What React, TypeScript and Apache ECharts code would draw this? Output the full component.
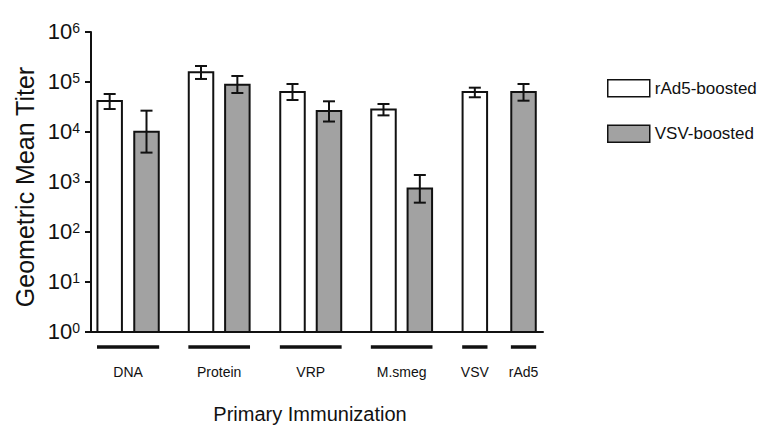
import React, { useEffect, useRef } from 'react';
import * as echarts from 'echarts';

// ---- data ----
const categories = ['DNA', 'Protein', 'VRP', 'M.smeg', 'VSV', 'rAd5'];
const seriesNames = ['rAd5-boosted', 'VSV-boosted'];
const rAd5Mean = [41700, 156000, 63100, 28300, 63100, null];
const rAd5Low = [28800, 115000, 43700, 21500, 49500, null];
const rAd5High = [57500, 209000, 91200, 36300, 77000, null];
const vsvMean = [10100, 88600, 26300, 741, null, 63100];
const vsvLow = [3870, 60300, 16200, 386, null, 42300];
const vsvHigh = [26700, 132000, 41100, 1380, null, 91200];

// ---- layout (bar slot centres along a 0..100 x axis) ----
const rAd5Slots = [4.13, 24.34, 44.58, 64.71, 84.92, null];
const vsvSlots = [12.28, 32.38, 52.65, 72.75, null, 95.69];
const BAR_W = 5.42;
const UNDERLINE_PAD = 2.8;

const FONT = "Arial, 'Liberation Sans', Helvetica, sans-serif";
const INK = '#111';
const GREY = '#a2a2a2';

function buildBarData(slots: (number | null)[], mean: (number | null)[], low: (number | null)[], high: (number | null)[]) {
  const out: number[][] = [];
  for (let i = 0; i < categories.length; i++) {
    if (slots[i] == null || mean[i] == null) continue;
    out.push([slots[i] as number, mean[i] as number, low[i] as number, high[i] as number]);
  }
  return out;
}

function barRenderer(fill: string) {
  return (params: any, api: any) => {
    const x = api.value(0);
    const v = api.value(1);
    const lo = api.value(2);
    const hi = api.value(3);
    const top = api.coord([x, v]);
    const base = api.coord([x, 1]);
    const left = api.coord([x - BAR_W / 2, v])[0];
    const right = api.coord([x + BAR_W / 2, v])[0];
    const yHi = api.coord([x, hi])[1];
    const yLo = api.coord([x, lo])[1];
    const cap = 6;
    const lineStyle = { stroke: INK, lineWidth: 2 };
    return {
      type: 'group',
      children: [
        {
          type: 'rect',
          shape: { x: left, y: top[1], width: right - left, height: base[1] - top[1] },
          style: { fill, stroke: INK, lineWidth: 2 },
        },
        { type: 'line', shape: { x1: top[0], y1: yHi, x2: top[0], y2: yLo }, style: lineStyle },
        { type: 'line', shape: { x1: top[0] - cap, y1: yHi, x2: top[0] + cap, y2: yHi }, style: lineStyle },
        { type: 'line', shape: { x1: top[0] - cap, y1: yLo, x2: top[0] + cap, y2: yLo }, style: lineStyle },
      ],
    };
  };
}

function buildGroupData() {
  const out: number[][] = [];
  for (let i = 0; i < categories.length; i++) {
    const s = [rAd5Slots[i], vsvSlots[i]].filter((v) => v != null) as number[];
    out.push([Math.min(...s) - UNDERLINE_PAD, Math.max(...s) + UNDERLINE_PAD, 1, i]);
  }
  return out;
}

export default function App() {
  const ref = useRef<HTMLDivElement>(null);
  useEffect(() => {
    if (!ref.current) return;
    const chart = echarts.init(ref.current, undefined, { renderer: 'svg' });
    const option: any = {
      animation: false,
      backgroundColor: '#ffffff',
      grid: { left: 91, right: 225, top: 32, bottom: 106, outerBoundsMode: 'none' },
      xAxis: {
        type: 'value',
        min: 0,
        max: 100,
        axisLine: { show: true, onZero: false, lineStyle: { color: INK, width: 2 } },
        axisTick: { show: false },
        axisLabel: { show: false },
        splitLine: { show: false },
      },
      yAxis: {
        type: 'log',
        logBase: 10,
        min: 1,
        max: 1000000,
        splitNumber: 6,
        axisLine: { show: true, onZero: false, lineStyle: { color: INK, width: 2 } },
        axisTick: { show: true, length: 6, lineStyle: { color: INK, width: 2 } },
        splitLine: { show: false },
        axisLabel: {
          margin: 11,
          formatter: (v: number) => `{b|10}{s|${Math.round(Math.log10(v))}}`,
          rich: {
            b: { fontSize: 22, color: INK, fontFamily: FONT, verticalAlign: 'top', lineHeight: 23 },
            s: { fontSize: 14, color: INK, fontFamily: FONT, verticalAlign: 'top', lineHeight: 15 },
          },
        },
      },
      legend: {
        orient: 'vertical',
        left: 602,
        top: 74,
        itemWidth: 42,
        itemHeight: 17,
        itemGap: 27,
        icon: 'rect',
        selectedMode: false,
        textStyle: { fontSize: 17, color: INK, fontFamily: FONT },
        data: [
          { name: seriesNames[0], itemStyle: { color: '#ffffff', borderColor: INK, borderWidth: 1.5 } },
          { name: seriesNames[1], itemStyle: { color: GREY, borderColor: INK, borderWidth: 1.5 } },
        ],
      },
      graphic: [
        {
          type: 'text',
          x: 25,
          y: 187,
          rotation: Math.PI / 2,
          style: { text: 'Geometric Mean Titer', fontSize: 25, fontFamily: FONT, fill: INK, align: 'center', verticalAlign: 'middle' },
        },
        {
          type: 'text',
          x: 310,
          y: 414,
          style: { text: 'Primary Immunization', fontSize: 20, fontFamily: FONT, fill: INK, align: 'center', verticalAlign: 'middle' },
        },
      ],
      series: [
        {
          type: 'custom',
          name: seriesNames[0],
          itemStyle: { color: '#ffffff', borderColor: INK, borderWidth: 1.5 },
          encode: { x: 0, y: 1 },
          data: buildBarData(rAd5Slots, rAd5Mean, rAd5Low, rAd5High),
          renderItem: barRenderer('#ffffff'),
          clip: false,
          silent: true,
          z: 3,
        },
        {
          type: 'custom',
          name: seriesNames[1],
          itemStyle: { color: GREY, borderColor: INK, borderWidth: 1.5 },
          encode: { x: 0, y: 1 },
          data: buildBarData(vsvSlots, vsvMean, vsvLow, vsvHigh),
          renderItem: barRenderer(GREY),
          clip: false,
          silent: true,
          z: 3,
        },
        {
          type: 'custom',
          name: 'groups',
          encode: { x: [0, 1], y: 2 },
          data: buildGroupData(),
          clip: false,
          silent: true,
          renderItem: (params: any, api: any) => {
            const p1 = api.coord([api.value(0), 1]);
            const p2 = api.coord([api.value(1), 1]);
            const idx = api.value(3);
            const y = p1[1] + 15;
            return {
              type: 'group',
              children: [
                { type: 'line', shape: { x1: p1[0], y1: y, x2: p2[0], y2: y }, style: { stroke: INK, lineWidth: 3.5 } },
                {
                  type: 'text',
                  x: (p1[0] + p2[0]) / 2,
                  y: y + 25,
                  style: { text: categories[idx], fontSize: 14, fontFamily: FONT, fill: INK, align: 'center', verticalAlign: 'middle' },
                },
              ],
            };
          },
        },
      ],
    };
    chart.setOption(option);
    return () => chart.dispose();
  }, []);
  return <div ref={ref} style={{ position: 'fixed', left: 0, top: 0, width: 768, height: 438, background: '#fff' }} />;
}
